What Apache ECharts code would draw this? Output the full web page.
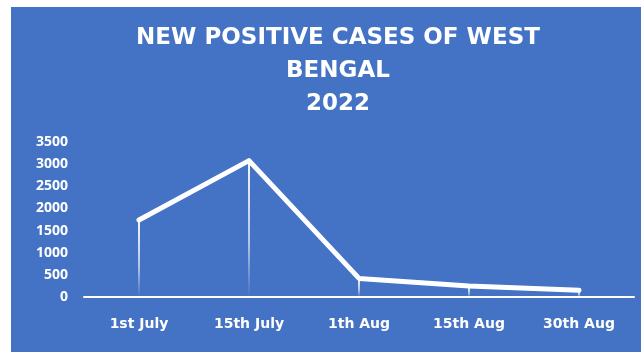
<!DOCTYPE html>
<html><head><meta charset="utf-8">
<script src="https://cdn.jsdelivr.net/npm/echarts@6/dist/echarts.min.js"></script>
<style>html,body{margin:0;padding:0;background:#fff}#c{position:absolute;left:11px;top:7px;width:630px;height:345px;background:#4472C4}</style>
</head><body><div id="c"></div>
<script>
const categories = ["1st July", "15th July", "1th Aug", "15th Aug", "30th Aug"];
const cases = [1740, 3080, 420, 250, 150];
const yTicks = [0, 500, 1000, 1500, 2000, 2500, 3000, 3500];
const titleLines = ["NEW POSITIVE CASES OF WEST", "BENGAL", "2022"];

const chart = echarts.init(document.getElementById('c'), null, {renderer: 'canvas'});
const white = '#ffffff';
chart.setOption({
  animation: false,
  title: {
    text: titleLines.join('\n'),
    left: 322, top: 10, textAlign: 'center',
    textStyle: {color: white, fontFamily: 'DejaVu Sans', fontWeight: 'bold', fontSize: 23, lineHeight: 33}
  },
  grid: {left: 73, right: 7, top: 135, bottom: 55},
  xAxis: {
    type: 'category', data: categories, boundaryGap: true,
    axisLine: {lineStyle: {color: white, width: 2}},
    axisTick: {show: false},
    axisLabel: {color: white, fontFamily: 'DejaVu Sans', fontWeight: 'bold', fontSize: 14, margin: 20}
  },
  yAxis: {
    type: 'value', min: yTicks[0], max: yTicks[yTicks.length - 1], interval: 500,
    axisLine: {show: false}, axisTick: {show: false}, splitLine: {show: false},
    axisLabel: {color: white, fontFamily: 'Open Sans', fontWeight: 'bold', fontSize: 14, margin: 16,
      formatter: v => String(v)}
  },
  series: [
    {
      type: 'bar', data: cases, barWidth: 2, silent: true,
      itemStyle: {color: new echarts.graphic.LinearGradient(0, 0, 0, 1, [
        {offset: 0, color: 'rgba(255,255,255,0.95)'},
        {offset: 0.6, color: 'rgba(255,255,255,0.6)'},
        {offset: 1, color: 'rgba(255,255,255,0)'}
      ])}
    },
    {
      type: 'line', data: cases, symbol: 'none',
      lineStyle: {color: white, width: 5, cap: 'round', join: 'round'}
    }
  ]
});
</script></body></html>
